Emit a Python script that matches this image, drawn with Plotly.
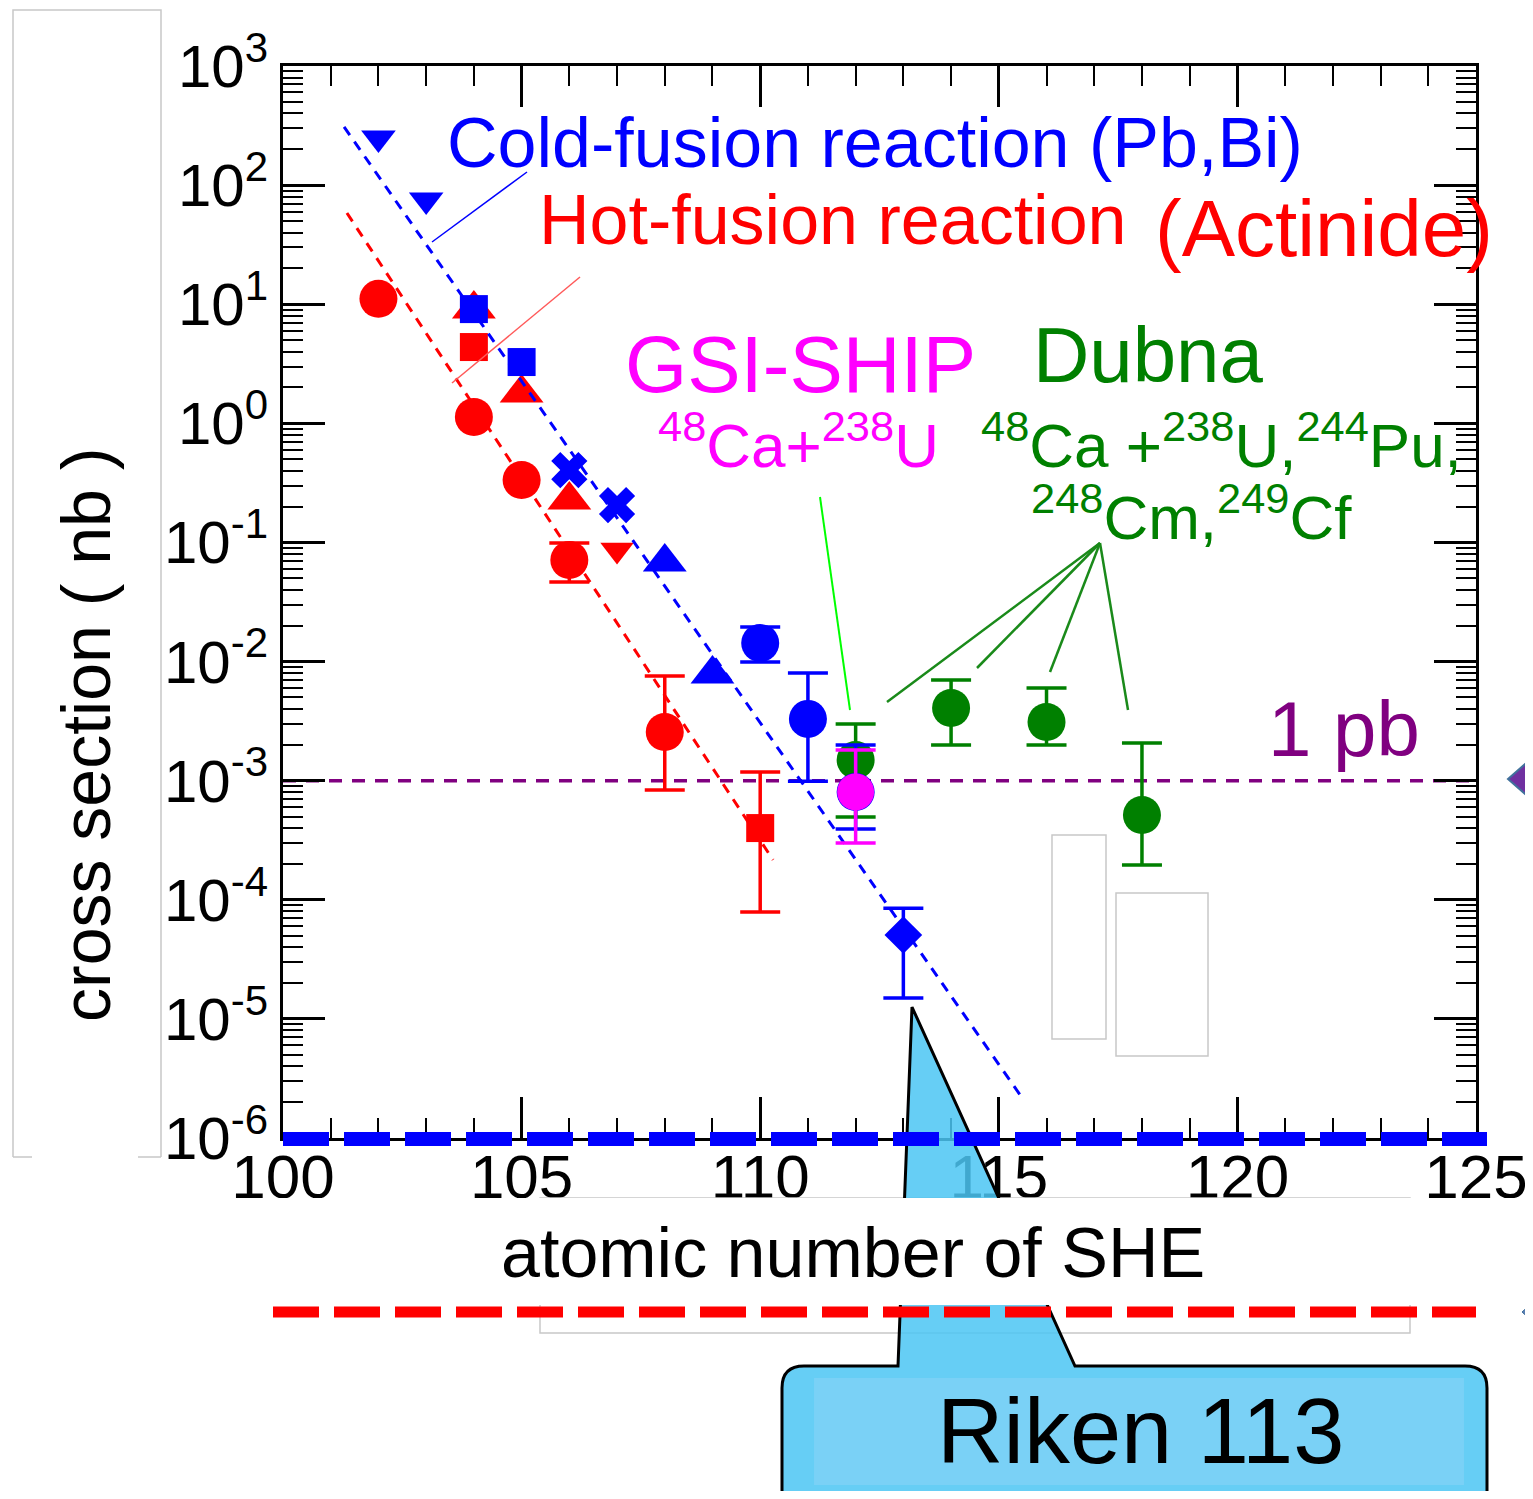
import plotly.graph_objects as go

# ---------------- data ----------------
# cold-fusion reactions (Pb, Bi targets) - blue
cold_tri_down_z = [102, 103]
cold_tri_down_sigma = [249, 75]
cold_square_z = [104, 105]
cold_square_sigma = [9.1, 3.27]
cold_x_z = [106, 107]
cold_x_sigma = [0.405, 0.206]
cold_tri_up_z = [108, 109]
cold_tri_up_sigma = [0.0686, 0.00785]
cold_circle_z = [110, 111, 112]
cold_circle_sigma = [0.0143, 0.0033, 0.000804]
cold_circle_hi = [0.0195, 0.0080, 0.00199]
cold_circle_lo = [0.0099, 0.00099, 0.000393]
riken_z = [113]
riken_sigma = [5.06e-5]
riken_hi = [8.5e-5]
riken_lo = [1.5e-5]

# hot-fusion reactions (actinide targets) - red
hot_circle_z = [102, 104, 105]
hot_circle_sigma = [11.1, 1.13, 0.334]
hot_circle_err_z = [106, 108]
hot_circle_err_sigma = [0.0713, 0.00256]
hot_circle_err_hi = [0.0988, 0.00757]
hot_circle_err_lo = [0.0466, 0.000836]
hot_tri_up_z = [104, 105, 106]
hot_tri_up_sigma = [9.1, 1.8, 0.227]
hot_square_z = [104]
hot_square_sigma = [4.37]
hot_square_err_z = [110]
hot_square_err_sigma = [4.0e-4]
hot_square_err_hi = [1.18e-3]
hot_square_err_lo = [7.9e-5]
hot_tri_down_z = [107]
hot_tri_down_sigma = [0.0865]

# GSI-SHIP 48Ca+238U - magenta
gsi_z = [112]
gsi_sigma = [8.04e-4]
gsi_hi = [1.81e-3]
gsi_lo = [3.0e-4]

# Dubna 48Ca + actinides - green
dubna_z = [112, 114, 116, 118]
dubna_sigma = [1.49e-3, 4.07e-3, 3.11e-3, 5.15e-4]
dubna_hi = [2.99e-3, 7.0e-3, 6.0e-3, 2.07e-3]
dubna_lo = [4.95e-4, 1.99e-3, 1.99e-3, 1.96e-4]

# systematic trend lines
cold_fit_z = [101.28, 115.49]
cold_fit_sigma = [307.7, 2.17e-6]
hot_fit_z = [101.34, 110.27]
hot_fit_sigma = [58.3, 2.16e-4]

one_pb_z = [100, 125]
one_pb_sigma = [1e-3, 1e-3]

x_tickvals = [100, 105, 110, 115, 120, 125]
y_exponents = [3, 2, 1, 0, -1, -2, -3, -4, -5, -6]

# ---------------- styling / layout ----------------
# page body has an 8px margin on every side: keep the figure inside the window
OFF = 8
W, H = 1533 - 2 * OFF, 1499 - 2 * OFF
L, R, T, B = 283, 1476, 66, 1138          # plot area in screen pixels
FONT = "Liberation Sans, Arial, Helvetica, sans-serif"

BLUE = "#0000ff"
RED = "#ff0000"
MAGENTA = "#ff00ff"
GREEN = "#008000"
PURPLE = "#800080"


def PX(x):
    return (x - L) / (R - L)


def PY(y):
    return (B - y) / (B - T)


fig = go.Figure()


def add_points(z, s, color, symbol, size, hi=None, lo=None):
    tr = dict(x=z, y=s, mode="markers", showlegend=False, hoverinfo="skip",
              marker=dict(color=color, symbol=symbol, size=size, line=dict(width=0)))
    if hi is not None:
        tr["error_y"] = dict(type="data", symmetric=False,
                             array=[h - v for h, v in zip(hi, s)],
                             arrayminus=[v - l for v, l in zip(s, lo)],
                             color=color, thickness=3.5, width=20)
    fig.add_trace(go.Scatter(**tr))


def add_line(z, s, color, width, dash):
    fig.add_trace(go.Scatter(x=z, y=s, mode="lines", showlegend=False, hoverinfo="skip",
                             line=dict(color=color, width=width, dash=dash)))


add_line(hot_fit_z, hot_fit_sigma, RED, 3, "10px,8px")
add_line(one_pb_z, one_pb_sigma, PURPLE, 3.5, "13px,10px")

# red (hot fusion)
add_points(hot_circle_z, hot_circle_sigma, RED, "circle", 38)
add_points(hot_circle_err_z, hot_circle_err_sigma, RED, "circle", 38,
           hot_circle_err_hi, hot_circle_err_lo)
add_points(hot_tri_up_z, hot_tri_up_sigma, RED, "triangle-up", 38)
add_points(hot_square_z, hot_square_sigma, RED, "square", 28)
add_points(hot_square_err_z, hot_square_err_sigma, RED, "square", 28,
           hot_square_err_hi, hot_square_err_lo)
add_points(hot_tri_down_z, hot_tri_down_sigma, RED, "triangle-down", 29)

add_line(cold_fit_z, cold_fit_sigma, BLUE, 3, "10px,8px")

# green (Dubna)
add_points(dubna_z, dubna_sigma, GREEN, "circle", 38, dubna_hi, dubna_lo)

# blue (cold fusion)
add_points(cold_tri_down_z, cold_tri_down_sigma, BLUE, "triangle-down", 30)
add_points(cold_square_z, cold_square_sigma, BLUE, "square", 28)
add_points(cold_x_z, cold_x_sigma, BLUE, "x", 32)
add_points(cold_tri_up_z, cold_tri_up_sigma, BLUE, "triangle-up", 38)
add_points(cold_circle_z, cold_circle_sigma, BLUE, "circle", 38, cold_circle_hi, cold_circle_lo)
add_points(riken_z, riken_sigma, BLUE, "diamond", 29, riken_hi, riken_lo)

# magenta (GSI)
add_points(gsi_z, gsi_sigma, MAGENTA, "circle", 37, gsi_hi, gsi_lo)

# ---------------- axes ----------------
minor_y = [m * 10.0 ** k for k in range(-6, 3) for m in range(2, 10)]
fig.update_xaxes(range=[100, 125], tickvals=x_tickvals, ticktext=[str(v) for v in x_tickvals],
                 ticks="inside", ticklen=41, tickwidth=2.5, tickcolor="black",
                 showline=True, linewidth=3, linecolor="black", mirror="ticks",
                 showgrid=False, zeroline=False, ticklabelstandoff=-17,
                 ticklabeloverflow="allow", automargin=False,
                 tickfont=dict(size=62, color="black", family=FONT),
                 minor=dict(ticks="inside", dtick=1, tick0=100, ticklen=20, tickwidth=2,
                            tickcolor="black", showgrid=False))
fig.update_yaxes(type="log", range=[-6, 3],
                 tickvals=[10.0 ** e for e in y_exponents],
                 ticktext=["10<sup>%d</sup>" % e for e in y_exponents],
                 ticks="inside", ticklen=42, tickwidth=2.5, tickcolor="black",
                 showline=True, linewidth=3, linecolor="black", mirror="ticks",
                 showgrid=False, zeroline=False, automargin=False,
                 tickfont=dict(size=60, color="black", family=FONT),
                 minor=dict(ticks="inside", tickvals=minor_y, ticklen=20, tickwidth=2,
                            tickcolor="black", showgrid=False))

# ---------------- shapes ----------------
shapes = []


def P(x, y):
    return "%.5f,%.5f" % (PX(x), PY(y))


def seg(x0, y0, x1, y1, color, width, dash=None, layer="above"):
    d = dict(type="line", xref="paper", yref="paper", x0=PX(x0), y0=PY(y0), x1=PX(x1), y1=PY(y1),
             line=dict(color=color, width=width), layer=layer)
    if dash:
        d["line"]["dash"] = dash
    shapes.append(d)


def path(p, line_color=None, width=0, fill=None, layer="above"):
    d = dict(type="path", xref="paper", yref="paper", path=p, layer=layer,
             line=dict(color=line_color or "rgba(0,0,0,0)", width=width))
    if fill:
        d["fillcolor"] = fill
    shapes.append(d)


GRAY = "#c8c8c8"
# gray frames
path("M" + P(13, 1157) + "L" + P(13, 10) + "L" + P(161, 10) + "L" + P(161, 1157)
     + "M" + P(13, 1157) + "L" + P(32, 1157) + "M" + P(138, 1157) + "L" + P(161, 1157),
     GRAY, 1.5)
path("M" + P(540, 1198) + "L" + P(1410, 1198) + "L" + P(1410, 1333) + "L" + P(540, 1333) + "Z",
     GRAY, 1.5)
path("M" + P(1052, 835) + "L" + P(1106, 835) + "L" + P(1106, 1039) + "L" + P(1052, 1039) + "Z",
     GRAY, 1.5)
path("M" + P(1116, 893) + "L" + P(1208, 893) + "L" + P(1208, 1056) + "L" + P(1116, 1056) + "Z",
     GRAY, 1.5)

# Riken callout
callout = ("M" + P(804, 1366) + "L" + P(898, 1366) + "L" + P(912, 1007) + "L" + P(1075, 1366)
           + "L" + P(1465, 1366) + "Q" + P(1487, 1366) + " " + P(1487, 1388)
           + "L" + P(1487, 1530) + "L" + P(782, 1530) + "L" + P(782, 1388)
           + "Q" + P(782, 1366) + " " + P(804, 1366) + "Z")
path(callout, "black", 3, "rgba(75,197,243,0.85)")
path("M" + P(814, 1378) + "L" + P(1464, 1378) + "L" + P(1464, 1485) + "L" + P(814, 1485) + "Z",
     None, 0, "rgb(122,209,246)")

# white band behind x title
path("M" + P(165, 1198) + "L" + P(1545, 1198) + "L" + P(1545, 1305) + "L" + P(165, 1305) + "Z",
     None, 0, "white")

# thick dashed lines
seg(283, 1139, 1487, 1139, BLUE, 14, "46px,15px")
seg(273, 1312, 1476, 1312, RED, 11, "46px,15px")

# leader lines
seg(527, 172, 432, 242, BLUE, 1.5)
seg(580, 277, 452, 383, "rgb(255,90,90)", 1.5)
seg(820, 497, 850, 710, "#00ff00", 2)
for ex, ey in [(887, 702), (977, 668), (1050, 672), (1128, 710)]:
    seg(1100, 543, ex, ey, "#1a8a1a", 2.5)

# partial slide diamonds at right edge
path("M" + P(1508, 779) + "L" + P(1540, 751) + "L" + P(1572, 779) + "L" + P(1540, 807) + "Z",
     "#41719c", 2, "#7030a0")
path("M" + P(1522, 1312) + "L" + P(1533, 1302) + "L" + P(1544, 1312) + "L" + P(1533, 1322) + "Z",
     "#41719c", 1, "#5b7fb5")

# ---------------- annotations ----------------
annotations = []


def txt(s, xc, baseline, size, color):
    annotations.append(dict(text=s, xref="paper", yref="paper", x=PX(xc),
                            y=PY(baseline + 0.212 * size + 1), xanchor="center", yanchor="bottom",
                            showarrow=False, font=dict(size=size, color=color, family=FONT)))


txt("Cold-fusion reaction (Pb,Bi)", 875, 168, 70, BLUE)
txt("Hot-fusion reaction", 833, 245, 70, RED)
txt("(Actinide)", 1324, 257, 80, RED)
txt("GSI-SHIP", 800, 393, 80, MAGENTA)
txt("Dubna", 1148, 383, 78, GREEN)
txt("<sup>48</sup>Ca+<sup>238</sup>U", 798, 468, 62, MAGENTA)
txt("<sup>48</sup>Ca +<sup>238</sup>U,<sup>244</sup>Pu,", 1221, 468, 62, GREEN)
txt("<sup>248</sup>Cm,<sup>249</sup>Cf", 1191, 540, 62, GREEN)
txt("1 pb", 1344, 757, 78, PURPLE)
txt("atomic number of SHE", 853, 1278, 70, "black")
txt("Riken 113", 1140, 1463, 92, "black")

annotations.append(dict(text="cross section ( nb )", xref="paper", yref="paper",
                        x=PX(86), y=PY(735), xanchor="center", yanchor="middle",
                        textangle=-90, showarrow=False,
                        font=dict(size=68, color="black", family=FONT)))

fig.update_layout(width=W, height=H, autosize=False,
                  margin=dict(l=L - OFF, r=(W + OFF) - R, t=T - OFF, b=(H + OFF) - B, pad=0,
                              autoexpand=False),
                  paper_bgcolor="white", plot_bgcolor="white",
                  font=dict(family=FONT, color="black"),
                  shapes=shapes, annotations=annotations, showlegend=False)

fig.write_html("out.html")
